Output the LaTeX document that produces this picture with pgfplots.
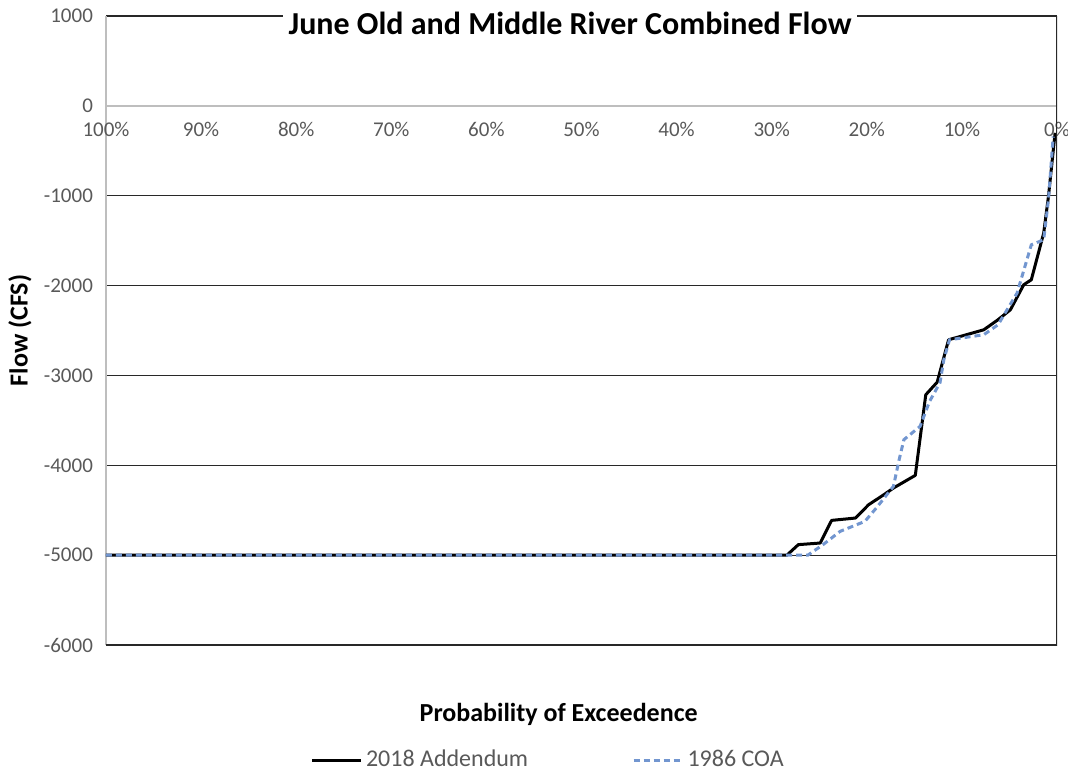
\documentclass[border=0pt]{standalone}
\usepackage{fontspec}
\setmainfont{Carlito}
\usepackage{pgfplots}
\pgfplotsset{compat=1.18}

\definecolor{coablue}{RGB}{114,150,208}
\definecolor{ticktext}{RGB}{89,89,89}
\definecolor{gridc}{RGB}{40,40,40}
\definecolor{axisgray}{RGB}{190,190,190}

\begin{document}
\begin{tikzpicture}
\useasboundingbox (-53pt,-64pt) rectangle (481pt,322.5pt);
\begin{axis}[
    at={(0pt,0pt)}, anchor=south west,
    scale only axis,
    width=475.5pt, height=314.5pt,
    xmin=0, xmax=100, x dir=reverse,
    ymin=-6000, ymax=1000,
    ytick distance=1000,
    xtick={0,10,...,100},
    xticklabels={0\%,10\%,20\%,30\%,40\%,50\%,60\%,70\%,80\%,90\%,100\%},
    hide obscured x ticks=false,
    axis x line*=middle,
    axis y line*=left,
    x axis line style={draw=axisgray, line width=0.75pt, -},
    y axis line style={draw=axisgray, line width=0.75pt, -},
    major tick length=0pt,
    ymajorgrids,
    major grid style={draw=gridc, line width=0.6pt},
    /pgf/number format/assume math mode=true,
    /pgf/number format/1000 sep={},
    tick label style={font=\fontsize{10.5}{12}\selectfont, text=ticktext},
    xticklabel style={yshift=-4.5pt},
    yticklabel style={xshift=-3pt},
    every axis title shift=0pt,
    title={June Old and Middle River Combined Flow},
    title style={at={(axis description cs:0.488,0.988)}, anchor=center,
        fill=white, inner xsep=3pt, inner ysep=2pt,
        font=\fontsize{16}{19}\selectfont\bfseries},
    xlabel={Probability of Exceedence},
    xlabel style={at={(axis description cs:0.476,-0.111)}, anchor=center,
        font=\fontsize{13}{15}\selectfont\bfseries},
    ylabel={Flow (CFS)},
    ylabel style={at={(axis description cs:-0.0905,0.5)}, anchor=center, rotate=0,
        font=\fontsize{13}{15}\selectfont\bfseries},
    legend columns=2,
    legend style={at={(axis description cs:0.466,-0.183)}, anchor=center, draw=none,
        font=\fontsize{12}{14}\selectfont, text=ticktext, inner sep=1pt,
        /tikz/every even column/.append style={column sep=50pt}},
    legend image code/.code={\draw[#1] (0cm,0cm) -- (0.85cm,0cm);},
]
\addplot[black, line width=1.5pt, line join=round] coordinates {
(100,-5000) (28.4,-5000) (27.2,-4883) (24.9,-4865) (23.7,-4613) (21.2,-4587)
(19.8,-4438) (18.2,-4327) (17.2,-4253) (14.9,-4112) (13.8,-3215) (12.6,-3075)
(11.4,-2603) (7.7,-2492) (6.2,-2380) (4.9,-2269) (3.5,-1991) (2.7,-1935)
(1.4,-1416) (0.9,-1009) (0.2,-300)
};
\addlegendentry{2018 Addendum}
\addplot[coablue, line width=1.5pt, dash pattern=on 3pt off 2pt] coordinates {
(100,-5000) (26.2,-5000) (24.6,-4883) (22.8,-4735) (20.2,-4624) (19.0,-4475)
(17.2,-4234) (16.6,-3938) (16.1,-3715) (14.4,-3567) (13.4,-3289) (12.3,-3080)
(11.9,-2825) (11.3,-2603) (7.7,-2547) (6.2,-2436) (4.2,-2084) (2.7,-1546)
(1.4,-1490) (0.9,-1046) (0.4,-341)
};
\addlegendentry{1986 COA}
\draw[gridc, line width=0.75pt] (rel axis cs:0,0) -- (rel axis cs:1,0) -- (rel axis cs:1,1);
\end{axis}
\end{tikzpicture}
\end{document}
